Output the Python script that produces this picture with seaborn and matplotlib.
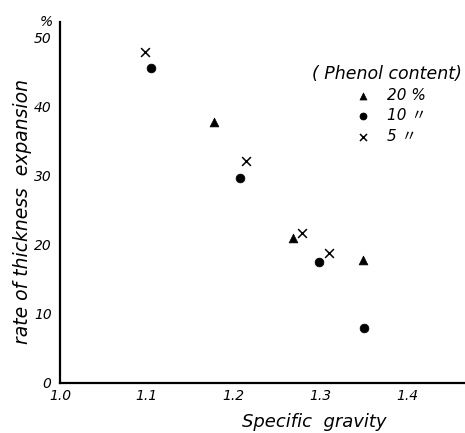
import matplotlib
matplotlib.use("Agg")
import matplotlib.pyplot as plt
import seaborn as sns

sns.set_theme(style="white")
plt.rcParams['font.family'] = ['DejaVu Sans', 'Noto Sans CJK JP']
for k in ["text.color", "axes.labelcolor", "xtick.color", "ytick.color"]:
    plt.rcParams[k] = "black"

# data
phenol_20_x = [1.178, 1.269, 1.349]
phenol_20_y = [37.8, 21.0, 17.8]
phenol_10_x = [1.105, 1.207, 1.299, 1.351]
phenol_10_y = [45.6, 29.7, 17.5, 7.9]
phenol_5_x = [1.098, 1.215, 1.279, 1.310]
phenol_5_y = [48.0, 32.2, 21.7, 18.8]
labels = ["20 %", "10 〃", "5 〃"]
x_ticks = [1.0, 1.1, 1.2, 1.3, 1.4]
y_ticks = [0, 10, 20, 30, 40, 50]

fig = plt.figure(figsize=(4.65, 4.33), dpi=100)
ax = fig.add_axes([60/465, 50/433, 405/465, 361/433])

sns.scatterplot(x=phenol_20_x, y=phenol_20_y, marker="^", color="black",
                s=40, edgecolor="black", linewidth=0.5, label=labels[0], ax=ax)
sns.scatterplot(x=phenol_10_x, y=phenol_10_y, marker="o", color="black",
                s=40, edgecolor="black", linewidth=0.5, label=labels[1], ax=ax)
sns.scatterplot(x=phenol_5_x, y=phenol_5_y, marker="x", color="black",
                s=40, linewidth=1.1, label=labels[2], ax=ax)

ax.set_xlim(1.0, 1.467)
ax.set_ylim(0, 52.3)
ax.set_xticks(x_ticks)
ax.set_xticklabels([f"{v:.1f}" for v in x_ticks], style="italic", fontsize=10)
ax.set_yticks(y_ticks)
ax.set_yticklabels([str(v) for v in y_ticks], style="italic", fontsize=10)
for s in ["top", "right"]:
    ax.spines[s].set_visible(False)
for s in ["left", "bottom"]:
    ax.spines[s].set_color("black")
    ax.spines[s].set_linewidth(1.6)
ax.tick_params(axis="y", direction="out", length=4, width=1, color="black", pad=2)
ax.tick_params(axis="x", direction="in", length=3, width=1, color="black", pad=4)
ax.set_xlabel("Specific  gravity", style="italic", fontsize=13, labelpad=6)
ax.xaxis.set_label_coords(254/405, -0.083)
ax.set_ylabel("rate of thickness  expansion", style="italic", fontsize=13.5, labelpad=2)
ax.yaxis.set_label_coords(-0.069, 0.475)
ax.text(-0.035, 1.0, "%", transform=ax.transAxes, style="italic", fontsize=10,
        ha="center", va="center")

handles, lbls = ax.get_legend_handles_labels()
leg = ax.legend(handles, lbls, title="( Phenol content)", frameon=False,
                loc="upper right", bbox_to_anchor=(1.027, 0.92),
                prop={"style": "italic", "size": 11,
                      "family": ['DejaVu Sans', 'Noto Sans CJK JP']},
                title_fontproperties={"style": "italic", "size": 12.5},
                handletextpad=0.6, labelspacing=0.35, markerscale=0.8)
leg._legend_box.align = "center"

fig.savefig("out.png", dpi=100)
